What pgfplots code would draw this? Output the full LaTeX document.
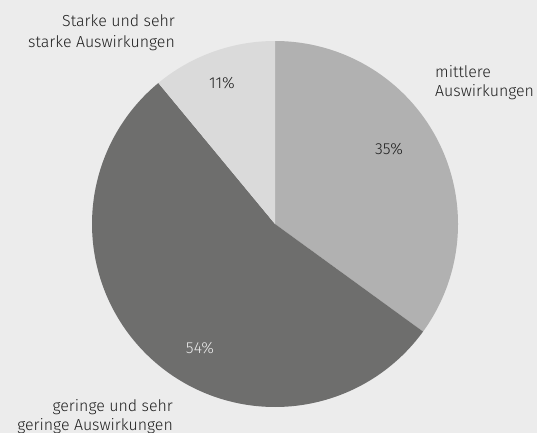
\documentclass[border=0pt]{standalone}
\usepackage{pgfplots}
\pgfplotsset{compat=1.18}
\usepgfplotslibrary{polar}
\usepackage{pgfplotstable}
\usepackage{fontspec}
\setmainfont{Fira Sans}[UprightFont={* Light}]
\definecolor{bg}{HTML}{ECECEC}
\definecolor{cA}{HTML}{B1B1B1}
\definecolor{cB}{HTML}{6E6E6D}
\definecolor{cC}{HTML}{DADADA}
\definecolor{txt}{HTML}{1E1E1E}
\pgfplotstableread{
share
35
54
11
}\piedata
\pgfplotstablegetelem{0}{share}\of\piedata \let\va\pgfplotsretval
\pgfplotstablegetelem{1}{share}\of\piedata \let\vb\pgfplotsretval
\pgfplotstablegetelem{2}{share}\of\piedata \let\vc\pgfplotsretval
\pgfmathsetmacro\aA{90}
\pgfmathsetmacro\aB{90-3.6*\va}
\pgfmathsetmacro\aC{\aB-3.6*\vb}
\pgfmathsetmacro\aD{\aC-3.6*\vc}
\begin{document}
\begin{tikzpicture}[x=1bp,y=1bp]
\useasboundingbox (0,0) rectangle (537,-433);
\fill[bg] (0,0) rectangle (537,-433);
\begin{polaraxis}[at={(275bp,-224bp)}, anchor=center, scale only axis,
  width=366bp, height=366bp, ymin=0, ymax=1, hide axis, clip=false]
\addplot[fill=cA, draw=none, domain=\aB:\aA, samples=120] {1} -- (axis cs:0,0) -- cycle;
\addplot[fill=cB, draw=none, domain=\aC:\aB, samples=160] {1} -- (axis cs:0,0) -- cycle;
\addplot[fill=cC, draw=none, domain=\aD:\aC, samples=60] {1} -- (axis cs:0,0) -- cycle;
\end{polaraxis}
\begin{scope}[every node/.style={font=\fontsize{16}{19}\selectfont, text=txt, inner sep=0pt}]
\node[anchor=center] at (222,-83) {11\%};
\node[anchor=center] at (389,-149) {35\%};
\node[anchor=center, text=white!92!black] at (200,-348) {54\%};
\node[anchor=base east] at (175,-27) {Starke und sehr};
\node[anchor=base east] at (175,-48) {starke Auswirkungen};
\node[anchor=base west] at (435,-78) {mittlere};
\node[anchor=base west] at (435,-97) {Auswirkungen};
\node[anchor=base east] at (173,-411) {geringe und sehr};
\node[anchor=base east] at (173,-430) {geringe Auswirkungen};
\end{scope}
\end{tikzpicture}
\end{document}
